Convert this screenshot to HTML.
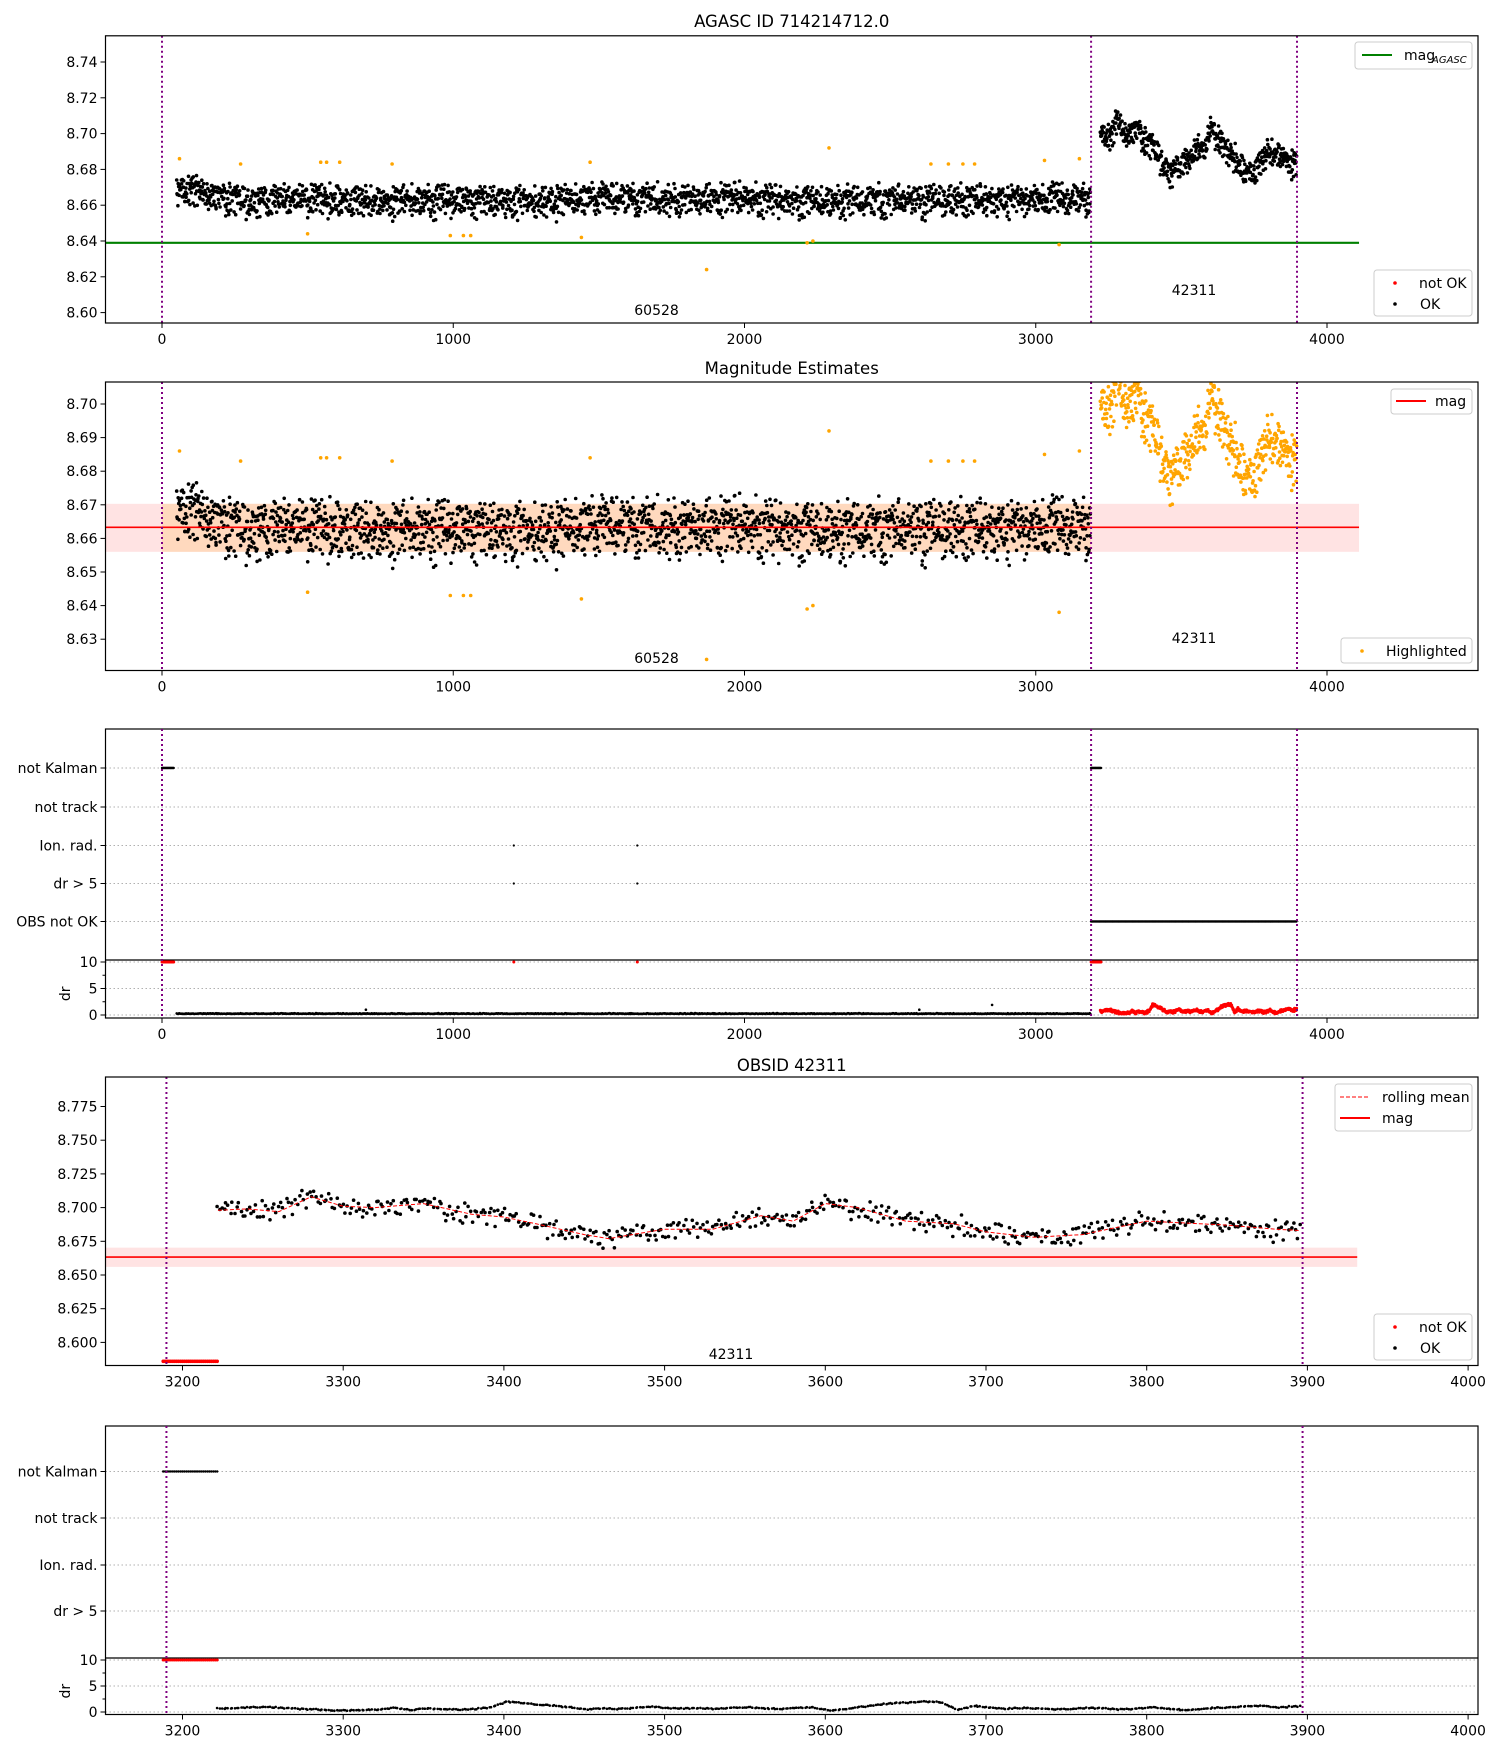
<!DOCTYPE html>
<html><head><meta charset="utf-8"><style>
html,body{margin:0;padding:0;background:#fff}
svg text{font-family:"DejaVu Sans","Liberation Sans",sans-serif;fill:#000}
</style></head><body>
<svg id="fig" xmlns="http://www.w3.org/2000/svg" width="1500" height="1750" viewBox="0 0 1500 1750"></svg>
<script>
// ---------- DATA ----------
const obsBounds = [0, 3190, 3897];
const obsIds = ["60528", "42311"];
const magAgasc = 8.639;
const magMean = 8.6633;
const magLow = 8.6560;
const magHigh = 8.6703;
// obs1 trend (per 200 units starting at 0)
const obs1Trend = [8.668,8.662,8.664,8.662,8.663,8.663,8.662,8.664,8.663,8.664,8.663,8.662,8.663,8.663,8.663,8.664];
// obs2 rolling-mean knots
const obs2X = [3222,3240,3260,3280,3300,3320,3350,3380,3400,3420,3450,3465,3480,3500,3530,3560,3580,3600,3620,3650,3680,3700,3730,3760,3800,3850,3880,3895];
const obs2Mean = [8.698,8.699,8.697,8.708,8.701,8.700,8.703,8.695,8.693,8.688,8.680,8.677,8.680,8.684,8.684,8.694,8.690,8.703,8.700,8.690,8.688,8.682,8.678,8.680,8.690,8.687,8.684,8.683];
// hand-typed residual pattern
const jitter = [0.3,-0.7,0.9,-0.2,0.5,-0.9,0.1,0.7,-0.4,-0.1,0.8,-0.6,0.2,-0.8,0.6,-0.3,0.0,0.4,-0.5,0.95,-0.15,0.35,-0.85,0.55,-0.05,0.75,-0.45,0.15,-0.65,0.85,-0.25,0.45,-0.95,0.25,-0.35,0.65,-0.75,0.05,0.9,-0.55,0.3,-0.1,0.6,-0.8,0.2,-0.4,0.7,-0.6,0.1,-0.9,0.5,-0.2,0.8,-0.7,0.4,-0.3,0.0,0.65,-0.45,0.25,-0.85,0.55,-0.15,0.75,-0.5,0.35,-0.65,0.15,-0.25,0.45,-0.95,0.85,-0.05,0.6,-0.35,0.1,-0.75,0.3,-0.55,0.7,-0.2,0.5,-0.9,0.2,-0.4,0.8,-0.1,0.4,-0.6,0.9,-0.3,0.05,-0.7,0.6,-0.5,0.15,-0.8];
const highlightX = [60,270,500,545,565,610,790,990,1035,1060,1440,1470,1870,2215,2235,2290,2640,2700,2750,2790,3030,3080,3150];
const highlightY = [8.686,8.683,8.644,8.684,8.684,8.684,8.683,8.643,8.643,8.643,8.642,8.684,8.624,8.639,8.640,8.692,8.683,8.683,8.683,8.683,8.685,8.638,8.686];
// dr for obs2 (per 10 units from 3222)
const dr2 = [0.7,0.7,0.9,1.0,0.8,0.6,0.5,0.3,0.3,0.4,0.5,0.8,0.4,0.7,0.5,0.5,0.6,0.9,2.0,1.7,1.4,1.2,0.9,0.5,0.7,0.6,0.8,1.0,0.8,0.7,0.7,0.6,0.8,0.9,0.7,0.6,0.8,0.9,0.3,0.5,1.0,1.4,1.7,1.8,2.0,1.9,0.4,1.2,0.9,0.6,0.8,0.7,0.5,0.6,0.8,0.7,0.5,0.6,0.9,0.7,0.4,0.5,0.8,0.9,1.1,1.2,0.9,1.1,1.2];
const drOutX = [700,2600,2850];
const drOutY = [1.0,1.0,1.9];
const ionX = [1208,1632];
const xTicks1 = [0,1000,2000,3000,4000];
const xTicks4 = [3200,3300,3400,3500,3600,3700,3800,3900,4000];
const yTicks1 = [8.60,8.62,8.64,8.66,8.68,8.70,8.72,8.74];
const yTicks2 = [8.63,8.64,8.65,8.66,8.67,8.68,8.69,8.70];
const yTicks4 = [8.600,8.625,8.650,8.675,8.700,8.725,8.750,8.775];
const flagLabels3 = ["not Kalman","not track","Ion. rad.","dr > 5","OBS not OK"];
const flagLabels5 = ["not Kalman","not track","Ion. rad.","dr > 5"];

// ---------- HELPERS ----------
const NS="http://www.w3.org/2000/svg";
const svg=document.getElementById('fig');
function mk(tag,attrs,parent){const e=document.createElementNS(NS,tag);for(const k in attrs)e.setAttribute(k,attrs[k]);(parent||svg).appendChild(e);return e;}
function txt(s,x,y,anchor,size,parent){const t=mk('text',{x:x,y:y,'text-anchor':anchor||'middle','font-size':size||14},parent);t.textContent=s;return t;}
function interp(xs,ys,x){if(x<=xs[0])return ys[0];for(let i=1;i<xs.length;i++){if(x<=xs[i]){const f=(x-xs[i-1])/(xs[i]-xs[i-1]);return ys[i-1]+f*(ys[i]-ys[i-1]);}}return ys[ys.length-1];}
const JN=jitter.length;
function noise(i){return jitter[(i*13)%JN]*0.55+jitter[(i*i*31+7)%JN]*0.5+jitter[((i*i*i+i*17)%9973)%JN]*0.35;}
const L=105.5,R=1478;
const sxA=v=>162+v*0.29125;
const sxB=v=>182.5+(v-3200)*1.607;
let clipN=0;
function clip(y0,y1){const id='c'+(clipN++);const cp=mk('clipPath',{id:id});mk('rect',{x:L,y:y0,width:R-L,height:y1-y0},cp);return 'url(#'+id+')';}

// generate points
const obs1Pts=[];for(let x=50,i=0;x<3188;x+=1.45,i++){const m=interp(obs1Trend.map((_,k)=>k*200+100),obs1Trend,x);obs1Pts.push([x+jitter[(i*7+2)%JN]*0.7,m+noise(i)*0.0098]);}
const obs2Pts=[];for(let x=3222,i=0;x<3896;x+=1.3,i++){const m=interp(obs2X,obs2Mean,x);obs2Pts.push([x+jitter[(i*11+5)%JN]*0.5,m+noise(i+7)*0.0085]);}
const notOkX=[];for(let x=3188;x<=3222;x+=1.2)notOkX.push(x);

function frame(y0,y1,name){const r=mk('rect',{x:L,y:y0,width:R-L,height:y1-y0,fill:'none',stroke:'#000','stroke-width':1.2});}
function xaxis(y1,ticks,sx,name){const g=mk('g',{});ticks.forEach(t=>{const x=sx(t);mk('line',{x1:x,y1:y1,x2:x,y2:y1+5,stroke:'#000'},g);txt(String(t),x,y1+21,'middle',14,g);});}
function yaxis(ticks,sy,dec,name){const g=mk('g',{});ticks.forEach(t=>{const y=sy(t);mk('line',{x1:L-5,y1:y,x2:L,y2:y,stroke:'#000'},g);txt(t.toFixed(dec),L-8,y+5,'end',14,g);});}
function vlines(y0,y1,sx,cp,name){const g=mk('g',{'clip-path':cp});obsBounds.forEach(b=>{mk('line',{x1:sx(b),y1:y0,x2:sx(b),y2:y1,stroke:'#800080','stroke-width':2,'stroke-dasharray':'2,3'},g);});}
function dots(pts,sx,sy,color,r,cp,name){const g=mk('g',{fill:color,'clip-path':cp});pts.forEach(p=>mk('circle',{cx:sx(p[0]).toFixed(1),cy:sy(p[1]).toFixed(1),r:r},g));return g;}
function legendBox(x,y,w,h,name){const g=mk('g',{});mk('rect',{x:x,y:y,width:w,height:h,rx:3,fill:'#fff','fill-opacity':0.85,stroke:'#ccc'},g);return g;}

// ---------- PANEL 1 ----------
{const y0=35.8,y1=323;const sy=v=>62+(8.74-v)*1790;const cp=clip(y0,y1);
txt('AGASC ID 714214712.0',(L+R)/2,27,'middle',16.5);
const ag=mk('line',{x1:L,x2:sxA(4110),y1:sy(magAgasc),y2:sy(magAgasc),stroke:'green','stroke-width':2.2});
dots(obs1Pts,sxA,sy,'#000',1.8,cp,'obs1-points');
dots(obs2Pts,sxA,sy,'#000',1.8,cp,'obs2-points');
dots(highlightX.map((x,i)=>[x,highlightY[i]]),sxA,sy,'orange',1.8,cp,'highlight-points');
vlines(y0,y1,sxA,cp,'obs-boundaries');
txt(obsIds[0],(sxA(0)+sxA(3190))/2+30,315,'middle',14);
txt(obsIds[1],(sxA(3190)+sxA(3897))/2,295,'middle',14);
frame(y0,y1,'panel1-frame');xaxis(y1,xTicks1,sxA,'panel1-x-axis');yaxis(yTicks1,sy,2,'panel1-y-axis');
let g=legendBox(1355,42,117,27,'legend-mag-agasc');mk('line',{x1:1362,x2:1392,y1:55,y2:55,stroke:'green','stroke-width':2},g);txt('mag',1404,60,'start',14,g);txt('AGASC',1432,63,'start',10,g).setAttribute('font-style','italic');
g=legendBox(1374,270,98,46,'legend-ok');mk('circle',{cx:1395,cy:283,r:1.8,fill:'red'},g);txt('not OK',1419,288,'start',14,g);mk('circle',{cx:1395,cy:304,r:1.8,fill:'#000'},g);txt('OK',1420,309,'start',14,g);}

// ---------- PANEL 2 ----------
{const y0=382,y1=670.5;const sy=v=>404+(8.70-v)*3360;const cp=clip(y0,y1);
txt('Magnitude Estimates',(L+R)/2,374,'middle',16.5);
const b=mk('rect',{x:L,y:sy(magHigh),width:sxA(4110)-L,height:sy(magLow)-sy(magHigh),fill:'rgba(255,0,0,0.11)'});
const b2=mk('rect',{x:sxA(obsBounds[0]),y:sy(magHigh),width:sxA(obsBounds[1])-sxA(obsBounds[0]),height:sy(magLow)-sy(magHigh),fill:'rgba(255,165,0,0.16)'});
dots(obs1Pts,sxA,sy,'#000',1.8,cp,'obs1-points-p2');
dots(obs2Pts,sxA,sy,'orange',1.8,cp,'obs2-points-highlight');
dots(highlightX.map((x,i)=>[x,highlightY[i]]),sxA,sy,'orange',1.8,cp,'highlight-points-p2');
const ml=mk('line',{x1:L,x2:sxA(4110),y1:sy(magMean),y2:sy(magMean),stroke:'red','stroke-width':1.6});
vlines(y0,y1,sxA,cp,'obs-boundaries-p2');
txt(obsIds[0],(sxA(0)+sxA(3190))/2+30,663,'middle',14);
txt(obsIds[1],(sxA(3190)+sxA(3897))/2,643,'middle',14);
frame(y0,y1,'panel2-frame');xaxis(y1,xTicks1,sxA,'panel2-x-axis');yaxis(yTicks2,sy,2,'panel2-y-axis');
let g=legendBox(1391,389,81,25,'legend-mag');mk('line',{x1:1396,x2:1426,y1:401,y2:401,stroke:'red','stroke-width':2},g);txt('mag',1435,406,'start',14,g);
g=legendBox(1341,638,131,25,'legend-highlighted');mk('circle',{cx:1362,cy:651,r:1.8,fill:'orange'},g);txt('Highlighted',1386,656,'start',14,g);}

// ---------- FLAG PANEL helper ----------
function flagPanel(p){
const cp=clip(p.y0,p.y2);
const g=mk('g',{});
p.rows.forEach((ry,i)=>{mk('line',{x1:L,x2:R,y1:ry,y2:ry,stroke:'#b0b0b0','stroke-dasharray':'1.5,2.5'},g);mk('line',{x1:L-5,x2:L,y1:ry,y2:ry,stroke:'#000'},g);txt(p.labels[i],L-8,ry+5,'end',14,g);});
p.drTicks.forEach(t=>{const y=p.syd(t);mk('line',{x1:L,x2:R,y1:y,y2:y,stroke:'#b0b0b0','stroke-dasharray':'1.5,2.5'},g);mk('line',{x1:L-5,x2:L,y1:y,y2:y,stroke:'#000'},g);txt(String(t),L-8,y+5,'end',14,g);});
[2.5,7.5].forEach(t=>{const y=p.syd(t);mk('line',{x1:L-3,x2:L,y1:y,y2:y,stroke:'#000'},g);});
mk('line',{x1:L,x2:R,y1:p.y1,y2:p.y1,stroke:'#000','stroke-width':1.2},g);
const dl=txt('dr',0,0,'middle',14,g);dl.setAttribute('transform','translate(70,'+p.syd(4)+') rotate(-90)');
frame(p.y0,p.y2,p.name+'-frame');
return cp;}

// ---------- PANEL 3 ----------
{const rows=[768,807,845.5,883.5,921.5];const syd=v=>1015-v*5.3;
const cp=flagPanel({y0:729,y1:960,y2:1018,rows:rows,labels:flagLabels3,drTicks:[10,5,0],syd:syd,name:'panel3'});
const kal=[];for(let x=0;x<=40;x+=2)kal.push([x,0]);for(let x=3190;x<=3224;x+=2)kal.push([x,0]);
dots(kal,sxA,()=>rows[0],'#000',1.2,cp,'flag-not-kalman');
dots(ionX.map(x=>[x,0]),sxA,()=>rows[2],'#000',1.1,cp,'flag-ion-rad');
dots(ionX.map(x=>[x,0]),sxA,()=>rows[3],'#000',1.1,cp,'flag-dr5');
const obsnok=[];for(let x=3190;x<=3897;x+=3)obsnok.push([x,0]);
dots(obsnok,sxA,()=>rows[4],'#000',1.2,cp,'flag-obs-not-ok');
const red10=kal.map(p=>[p[0],10]).concat(ionX.map(x=>[x,10]));
dots(red10,sxA,syd,'red',1.5,cp,'dr-not-ok-10');
dots(obs1Pts.filter((_,i)=>i%2==0).map((p,i)=>[p[0],0.2+Math.abs(noise(i))*0.15]),sxA,syd,'#000',1.3,cp,'dr-obs1');
dots(drOutX.map((x,i)=>[x,drOutY[i]]),sxA,syd,'#000',1.3,cp,'dr-outliers');
dots(obs2Pts.map((p,i)=>[p[0],interp(dr2.map((_,k)=>3222+k*10),dr2,p[0])+noise(i)*0.3]),sxA,syd,'red',1.5,cp,'dr-obs2');
vlines(729,1018,sxA,cp,'obs-boundaries-p3');
xaxis(1018,xTicks1,sxA,'panel3-x-axis');}

// ---------- PANEL 4 ----------
{const y0=1077,y1=1365.5;const sy=v=>1106.5+(8.775-v)*1348;const cp=clip(y0,y1);
txt('OBSID 42311',(L+R)/2,1071,'middle',16.5);
const b=mk('rect',{x:L,y:sy(magHigh),width:sxB(3931)-L,height:sy(magLow)-sy(magHigh),fill:'rgba(255,0,0,0.11)','clip-path':cp});
const ml=mk('line',{x1:L,x2:sxB(3931),y1:sy(magMean),y2:sy(magMean),stroke:'red','stroke-width':1.6});
dots(obs2Pts,sxB,sy,'#000',1.8,cp,'obs2-points-p4');
dots(notOkX.map(x=>[x,8.586]),sxB,sy,'red',1.8,cp,'not-ok-points');
const rm=mk('polyline',{points:obs2X.map((x,i)=>sxB(x).toFixed(1)+','+sy(obs2Mean[i]).toFixed(1)).join(' '),fill:'none',stroke:'red','stroke-width':1,'stroke-dasharray':'4,2','clip-path':cp});
vlines(y0,y1,sxB,cp,'obs-boundaries-p4');
txt(obsIds[1],731,1359,'middle',14);
frame(y0,y1,'panel4-frame');xaxis(y1,xTicks4,sxB,'panel4-x-axis');yaxis(yTicks4,sy,3,'panel4-y-axis');
let g=legendBox(1335,1084,137,47,'legend-rolling');mk('line',{x1:1340,x2:1370,y1:1097,y2:1097,stroke:'red','stroke-width':1,'stroke-dasharray':'4,2'},g);txt('rolling mean',1382,1102,'start',14,g);mk('line',{x1:1340,x2:1370,y1:1118,y2:1118,stroke:'red','stroke-width':2},g);txt('mag',1382,1123,'start',14,g);
g=legendBox(1374,1314,98,46,'legend-ok-p4');mk('circle',{cx:1395,cy:1327,r:1.8,fill:'red'},g);txt('not OK',1419,1332,'start',14,g);mk('circle',{cx:1395,cy:1348,r:1.8,fill:'#000'},g);txt('OK',1420,1353,'start',14,g);}

// ---------- PANEL 5 ----------
{const rows=[1471.5,1518,1565,1611];const syd=v=>1712-v*5.2;
const cp=flagPanel({y0:1426,y1:1658,y2:1714.5,rows:rows,labels:flagLabels5,drTicks:[10,5,0],syd:syd,name:'panel5'});
const kal=notOkX.map(x=>[x,0]);
dots(kal,sxB,()=>rows[0],'#000',1.2,cp,'flag-not-kalman-p5');
dots(kal.map(p=>[p[0],10]),sxB,syd,'red',1.5,cp,'dr-not-ok-10-p5');
dots(obs2Pts.map((p,i)=>[p[0],interp(dr2.map((_,k)=>3222+k*10),dr2,p[0])+noise(i)*0.12]),sxB,syd,'#000',1.3,cp,'dr-obs2-p5');
vlines(1426,1714.5,sxB,cp,'obs-boundaries-p5');
xaxis(1714.5,xTicks4,sxB,'panel5-x-axis');}
</script>
</body></html>
